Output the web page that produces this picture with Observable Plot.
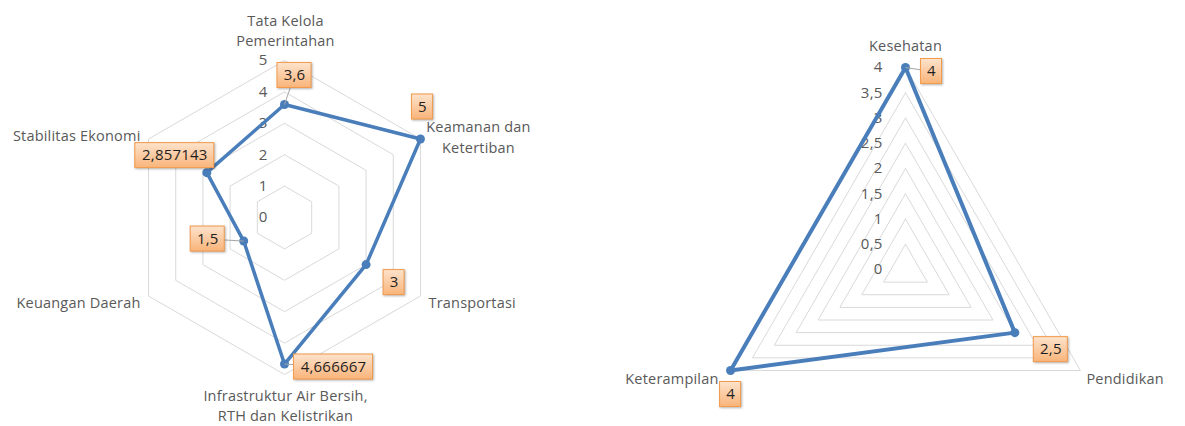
<!DOCTYPE html>
<html><head><meta charset="utf-8">
<script src="https://cdn.jsdelivr.net/npm/d3@7"></script>
<script src="https://cdn.jsdelivr.net/npm/@observablehq/plot@0.6"></script>
<style>
body{margin:0;background:#fff;}
#wrap{position:relative;width:1185px;height:426px;overflow:hidden;}
#wrap > div{position:absolute;top:0;}
#wrap text{letter-spacing:0.2px;}
g[fill="url(#boxg)"] rect{filter:drop-shadow(1px 1.5px 1px rgba(0,0,0,0.3));}
</style></head><body>
<svg width="0" height="0" style="position:absolute"><defs><linearGradient id="boxg" x1="0" y1="0" x2="0" y2="1"><stop offset="0" stop-color="#fde3cc"/><stop offset="1" stop-color="#f9b47a"/></linearGradient></defs></svg>
<div id="wrap"></div>
<script>
// ---- data ----
const leftCategories = ["Tata Kelola\nPemerintahan", "Keamanan dan\nKetertiban", "Transportasi", "Infrastruktur Air Bersih,\nRTH dan Kelistrikan", "Keuangan Daerah", "Stabilitas Ekonomi"];
const leftValues = [3.6, 5, 3, 4.666667, 1.5, 2.857143];
const leftTicks = [0, 1, 2, 3, 4, 5];
const rightCategories = ["Kesehatan", "Pendidikan", "Keterampilan"];
const rightValues = [4, 2.5, 4];
const rightTicks = [0, 0.5, 1, 1.5, 2, 2.5, 3, 3.5, 4];

// ---- layout (pixels) ----
const H = 426;
const FONT = "Open Sans, sans-serif";
const leftLayout = {
  left: 0, width: 600, cx: 284, cy: 217, unit: 31.4, lw: 3.5, tickDx: -17,
  cat: [[1, -31, "middle"], [58, -3, "middle"], [8, 5, "start"], [1, 30, "middle"], [-8, 5, "end"], [-8, -5, "end"]],
  box: [[10, -29, true], [2, -32, false], [28, 18, false], [49, 3, true], [-36, -2, true], [-32, -17, false]]
};
const rightLayout = {
  left: 600, width: 585, cx: 305, cy: 269, unit: 50.5, lw: 4, tickDx: -23,
  cat: [[0, -23, "middle"], [6, 7, "start"], [-12, 7, "end"]],
  box: [[26, 4, true], [36, 17, false], [0, 24, false]]
};

const fmt = v => String(v).replace(".", ",");

function radar(cfg, cats, vals, ticks) {
  const n = cats.length, u = cfg.unit;
  const pt = (i, r) => ({x: r * Math.sin(2 * Math.PI * i / n), y: r * Math.cos(2 * Math.PI * i / n)});
  const maxV = d3.max(ticks);
  const rings = ticks.filter(t => t > 0).flatMap(t => d3.range(n + 1).map(i => ({level: t, ...pt(i % n, t)})));
  const series = d3.range(n + 1).map(i => pt(i % n, vals[i % n]));
  const pts = vals.map((v, i) => ({v, ...pt(i, v)}));
  const boxes = pts.map((p, i) => {
    const [ox, oy, leader] = cfg.box[i];
    const label = fmt(p.v);
    const digits = label.replace(",", "").length, commas = label.length - digits;
    const w = 9 * digits + 4 * commas + 12, h = 25;
    const bx = p.x + ox / u, by = p.y - oy / u;
    return {label, leader, px: p.x, py: p.y, x: bx, y: by, x1: bx - w / 2 / u, x2: bx + w / 2 / u, y1: by - h / 2 / u, y2: by + h / 2 / u};
  });
  const catLabels = cats.map((c, i) => {
    const v = pt(i, maxV), [dx, dy, anchor] = cfg.cat[i];
    return {text: c, anchor, x: v.x + dx / u, y: v.y - dy / u};
  });
  const catMarks = ["start", "middle", "end"].map(a =>
    Plot.text(catLabels.filter(d => d.anchor === a), {x: "x", y: "y", text: "text", textAnchor: a, lineHeight: 1.42, fill: "#595959", fontSize: 14.5}));
  const plot = Plot.plot({
    width: cfg.width, height: H, margin: 0,
    x: {domain: [-cfg.cx / u, (cfg.width - cfg.cx) / u], axis: null},
    y: {domain: [-(H - cfg.cy) / u, cfg.cy / u], axis: null},
    style: {fontFamily: FONT, background: "transparent", overflow: "visible"},
    marks: [
      Plot.line(rings, {x: "x", y: "y", z: "level", stroke: "#d9d9d9", strokeWidth: 1}),
      Plot.text(ticks, {x: () => 0, y: d => d, text: d => fmt(d), textAnchor: "end", dx: cfg.tickDx, fill: "#595959", fontSize: 15}),
      Plot.line(series, {x: "x", y: "y", stroke: "#4a7ebb", strokeWidth: cfg.lw, strokeLinejoin: "round"}),
      Plot.dot(pts, {x: "x", y: "y", r: 4.5, fill: "#4a7ebb"}),
      Plot.link(boxes.filter(b => b.leader), {x1: "px", y1: "py", x2: "x", y2: "y", stroke: "#a6a6a6", strokeWidth: 1}),
      Plot.rect(boxes, {x1: "x1", x2: "x2", y1: "y1", y2: "y2", fill: "url(#boxg)", stroke: "#f39a4b", strokeWidth: 1}),
      Plot.text(boxes, {x: "x", y: "y", text: "label", fill: "#1f1f1f", fontSize: 15}),
      ...catMarks
    ]
  });
  const holder = document.createElement("div");
  holder.style.left = cfg.left + "px";
  holder.appendChild(plot);
  document.getElementById("wrap").appendChild(holder);
}

radar(leftLayout, leftCategories, leftValues, leftTicks);
radar(rightLayout, rightCategories, rightValues, rightTicks);
</script>
</body></html>
